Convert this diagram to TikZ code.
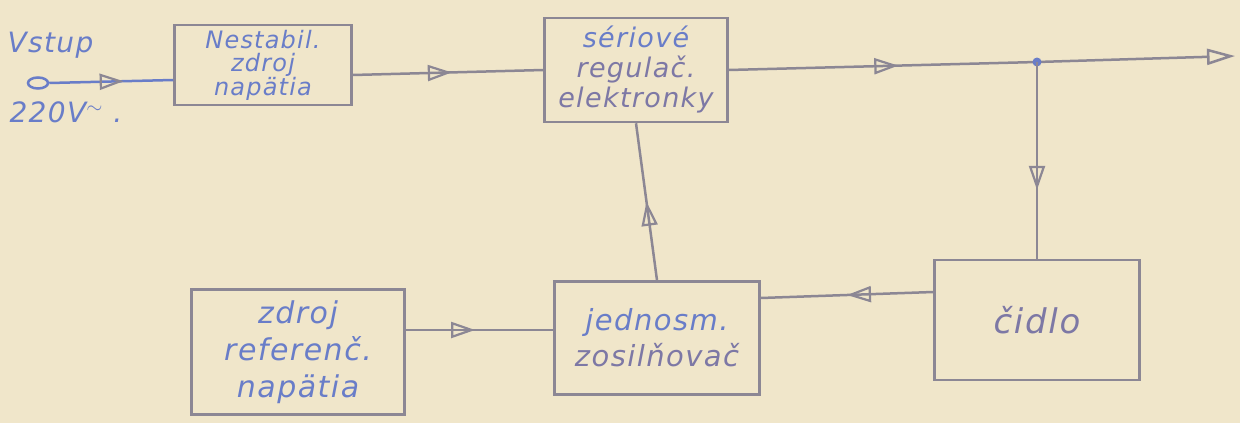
\documentclass[tikz,border=0pt]{standalone}
\usepackage{fontspec}
\setmainfont{DejaVu Sans}
\newfontfamily\hand[LetterSpace=5]{DejaVu Sans}
\usetikzlibrary{arrows.meta,decorations.markings,shapes.geometric}
\definecolor{paper}{RGB}{240,230,202}
\definecolor{pen}{RGB}{140,135,148}
\definecolor{ink}{RGB}{105,125,200}
\definecolor{inkgray}{RGB}{125,120,165}
\tikzset{
  blockbox/.style={draw=pen, line width=2.5pt, inner sep=0pt, align=center},
  wire/.style={draw=pen, line width=2.5pt},
  midarrow/.style={postaction={decorate}, decoration={markings,
    mark=at position #1 with {\arrow[pen, line width=2.2pt]{Triangle[open,length=24pt,width=16pt]}}}},
}
\begin{document}
\begin{tikzpicture}[x=1pt,y=-1pt]
\fill[paper] (0,0) rectangle (1240,423);
\useasboundingbox (0,0) rectangle (1240,423);

% blocks
\node[blockbox, minimum width=177pt, minimum height=80pt,
  font=\hand\itshape\fontsize{24}{23}\selectfont] (src) at (263,65)
  {\color{ink}Nestabil.\\\color{ink}zdroj\\\color{ink}napätia};
\node[blockbox, minimum width=183pt, minimum height=104pt,
  font=\hand\itshape\fontsize{27}{30}\selectfont] (reg) at (636,70)
  {\color{ink}sériové\\\color{inkgray}regulač.\\\color{inkgray}elektronky};
\node[blockbox, minimum width=205pt, minimum height=120pt,
  font=\hand\itshape\fontsize{34}{36}\selectfont] (cid) at (1037,320)
  {\color{inkgray}čidlo};
\node[blockbox, minimum width=205pt, minimum height=113pt,
  font=\hand\itshape\fontsize{29}{36}\selectfont] (amp) at (657,338)
  {\color{ink}jednosm.\\\color{inkgray}zosilňovač};
\node[blockbox, minimum width=213pt, minimum height=125pt,
  font=\hand\itshape\fontsize{30}{37}\selectfont] (ref) at (298,352)
  {\color{ink}zdroj\\\color{ink}referenč.\\\color{ink}napätia};

% input
\node[text=ink, font=\hand\itshape\fontsize{28}{30}\selectfont, anchor=west] (vin) at (4,45) {Vstup};
\node[text=ink, font=\hand\itshape\fontsize{28}{30}\selectfont, anchor=west] (volt) at (6,112) {220V$^{\sim}$ .};
\node[draw=ink, line width=2.5pt, ellipse, minimum width=20pt, minimum height=11pt, inner sep=0pt] (inp) at (38,83) {};

\coordinate (split) at (1037,62);
\coordinate (out) at (1235,56);

\draw[wire, draw=ink, midarrow=0.6] (inp.east) -- ([yshift=-15pt]src.west);
\draw[wire, midarrow=0.52] ([yshift=-10pt]src.east) -- (reg.west);
\draw[wire, midarrow=0.55] (reg.east) -- (split);
\draw[wire, -{Triangle[open,length=28pt,width=16pt]}] (split) -- (out);
\fill[ink] (split) circle (4.5pt);
\draw[wire, midarrow=0.65] (split) -- (split |- cid.north);
\draw[wire, midarrow=0.5] ([yshift=28pt]cid.west) -- ([yshift=40pt]amp.east);
\draw[wire, midarrow=0.5] (amp.north) -- (reg.south);
\draw[wire, midarrow=0.47] ([yshift=22pt]ref.east) -- ([yshift=8pt]amp.west);
\end{tikzpicture}
\end{document}
